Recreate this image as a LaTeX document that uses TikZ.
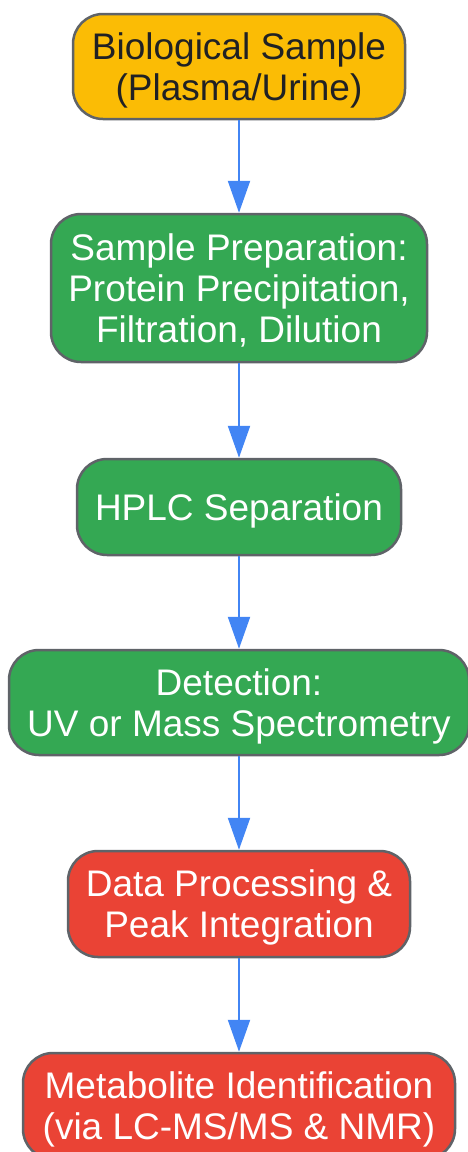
\documentclass[tikz,border=0pt]{standalone}
\usepackage{fontspec}
\setmainfont{Liberation Sans}
\usetikzlibrary{arrows.meta}
\definecolor{gyellow}{HTML}{FBBC05}
\definecolor{ggreen}{HTML}{34A853}
\definecolor{gred}{HTML}{EA4335}
\definecolor{gblue}{HTML}{4285F4}
\definecolor{gborder}{HTML}{5F6368}
\definecolor{gtext}{HTML}{202124}

\begin{document}
\begin{tikzpicture}[x=1pt, y=-1pt,
    box/.style={draw=gborder, line width=2.5pt, rounded corners=30pt,
      align=center, inner sep=0pt, text=white, text depth=0pt,
      font=\fontsize{37}{41}\selectfont},
    flow/.style={gblue, line width=2.2pt,
      -{Triangle[length=32pt, width=22pt]}}]
    \useasboundingbox (0,0) rectangle (467,1152);

    \node[box, fill=gyellow, text=gtext, minimum width=332pt, minimum height=105pt]
      (sample) at (239,66.5) {Biological Sample\\(Plasma/Urine)};
    \node[box, fill=ggreen, minimum width=376pt, minimum height=148pt]
      (prep) at (239,288) {Sample Preparation:\\Protein Precipitation,\\Filtration, Dilution};
    \node[box, fill=ggreen, minimum width=324pt, minimum height=96pt]
      (hplc) at (239,507) {HPLC Separation};
    \node[box, fill=ggreen, minimum width=460pt, minimum height=105pt]
      (detect) at (239,702.5) {Detection:\\UV or Mass Spectrometry};
    \node[box, fill=gred, minimum width=342pt, minimum height=106pt]
      (proc) at (239,904) {Data Processing \&\\Peak Integration};
    \node[box, fill=gred, minimum width=432pt, minimum height=106pt]
      (ident) at (239,1106) {Metabolite Identification\\(via LC-MS/MS \& NMR)};

    \draw[flow] (sample) -- (prep);
    \draw[flow] (prep) -- (hplc);
    \draw[flow] (hplc) -- (detect);
    \draw[flow] (detect) -- (proc);
    \draw[flow] (proc) -- (ident);
\end{tikzpicture}
\end{document}
